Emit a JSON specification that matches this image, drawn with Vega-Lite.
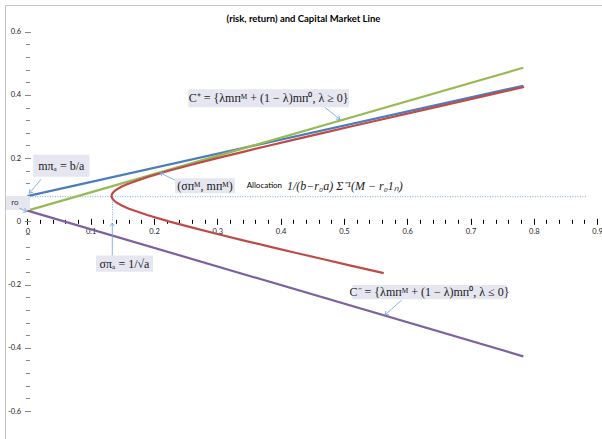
{
 "$schema": "https://vega.github.io/schema/vega-lite/v6.json",
 "autosize": {"type": "none"},
 "padding": {"left": 5, "top": 5, "right": 0, "bottom": 0},
 "width": 597,
 "height": 434,
 "background": "white",
 "config": {"view": {"stroke": "#c4c4c4", "strokeWidth": 1}, "font": "Lato"},
 "title": {"text": "(risk, return) and Capital Market Line", "font": "Lato", "fontSize": 9.5, "fontWeight": "bold", "color": "#000000", "anchor": "middle", "offset": -18},
 "datasets": {
  "curves": [
   {"series": "C+", "sigma": 0, "ret": 0.08},
   {"series": "C+", "sigma": 0.7834, "ret": 0.429},
   {"series": "CML", "sigma": 0, "ret": 0.034},
   {"series": "CML", "sigma": 0.7834, "ret": 0.486},
   {"series": "C-", "sigma": 0, "ret": 0.034},
   {"series": "C-", "sigma": 0.7834, "ret": -0.427},
   {"series": "frontier", "sigma": 0.5629, "ret": -0.164},
   {"series": "frontier", "sigma": 0.5108, "ret": -0.14},
   {"series": "frontier", "sigma": 0.4677, "ret": -0.12},
   {"series": "frontier", "sigma": 0.4249, "ret": -0.10},
   {"series": "frontier", "sigma": 0.3825, "ret": -0.08},
   {"series": "frontier", "sigma": 0.3409, "ret": -0.06},
   {"series": "frontier", "sigma": 0.3001, "ret": -0.04},
   {"series": "frontier", "sigma": 0.2607, "ret": -0.02},
   {"series": "frontier", "sigma": 0.2233, "ret": 0.0},
   {"series": "frontier", "sigma": 0.1892, "ret": 0.02},
   {"series": "frontier", "sigma": 0.1604, "ret": 0.04},
   {"series": "frontier", "sigma": 0.149, "ret": 0.05},
   {"series": "frontier", "sigma": 0.1404, "ret": 0.06},
   {"series": "frontier", "sigma": 0.1372, "ret": 0.065},
   {"series": "frontier", "sigma": 0.1349, "ret": 0.07},
   {"series": "frontier", "sigma": 0.1335, "ret": 0.075},
   {"series": "frontier", "sigma": 0.133, "ret": 0.08},
   {"series": "frontier", "sigma": 0.1335, "ret": 0.085},
   {"series": "frontier", "sigma": 0.1349, "ret": 0.09},
   {"series": "frontier", "sigma": 0.1372, "ret": 0.095},
   {"series": "frontier", "sigma": 0.1404, "ret": 0.10},
   {"series": "frontier", "sigma": 0.149, "ret": 0.11},
   {"series": "frontier", "sigma": 0.1604, "ret": 0.12},
   {"series": "frontier", "sigma": 0.1892, "ret": 0.14},
   {"series": "frontier", "sigma": 0.2233, "ret": 0.16},
   {"series": "frontier", "sigma": 0.2607, "ret": 0.18},
   {"series": "frontier", "sigma": 0.3001, "ret": 0.20},
   {"series": "frontier", "sigma": 0.3409, "ret": 0.22},
   {"series": "frontier", "sigma": 0.3825, "ret": 0.24},
   {"series": "frontier", "sigma": 0.4249, "ret": 0.26},
   {"series": "frontier", "sigma": 0.4677, "ret": 0.28},
   {"series": "frontier", "sigma": 0.5108, "ret": 0.30},
   {"series": "frontier", "sigma": 0.5542, "ret": 0.32},
   {"series": "frontier", "sigma": 0.6416, "ret": 0.36},
   {"series": "frontier", "sigma": 0.7296, "ret": 0.40},
   {"series": "frontier", "sigma": 0.7847, "ret": 0.425}
  ],
  "guides": [
   {"x": 0, "x2": 0.883, "y": 0.078, "y2": 0.078},
   {"x": 0.1345, "x2": 0.1345, "y": 0.078, "y2": 0}
  ],
  "boxes": [
   {"label": "mπₐ = b/a", "kind": "math", "x": 0.0535, "y": 0.176, "x1": 0.0093, "x2": 0.0978, "y1": 0.1413, "y2": 0.2106},
   {"label": "ro", "kind": "plain", "x": -0.0196, "y": 0.058, "x1": -0.0338, "x2": 0.0041, "y1": 0.0359, "y2": 0.0802},
   {"label": "(σᴨᴹ, mᴨᴹ)", "kind": "math", "x": 0.2806, "y": 0.1118, "x1": 0.2332, "x2": 0.328, "y1": 0.0887, "y2": 0.1361},
   {"label": "C⁺ = {λmᴨᴹ + (1 − λ)mᴨ⁰, λ ≥ 0}", "kind": "math", "x": 0.3811, "y": 0.3893, "x1": 0.2542, "x2": 0.508, "y1": 0.3608, "y2": 0.4178},
   {"label": "σπₐ = 1/√a", "kind": "math", "x": 0.1534, "y": -0.1337, "x1": 0.1084, "x2": 0.1984, "y1": -0.1595, "y2": -0.108},
   {"label": "C⁻ = {λmᴨᴹ + (1 − λ)mᴨ⁰, λ ≤ 0}", "kind": "math", "x": 0.6352, "y": -0.224, "x1": 0.5133, "x2": 0.7572, "y1": -0.2466, "y2": -0.2014}
  ],
  "freetext": [
   {"label": "Allocation", "kind": "plain", "x": 0.3464, "y": 0.1118},
   {"label": "1/(b−r₀a) Σ⁻¹(M − r₀1ₙ)", "kind": "math", "x": 0.41, "y": 0.1118}
  ],
  "arrows": [
   {"tx": 0.0215, "ty": 0.133, "hx": 0.003, "hy": 0.0888},
   {"tx": -0.0128, "ty": 0.0413, "hx": -0.001, "hy": 0.0305},
   {"tx": 0.2332, "ty": 0.1303, "hx": 0.2093, "hy": 0.1539},
   {"tx": 0.4698, "ty": 0.3608, "hx": 0.4937, "hy": 0.3228},
   {"tx": 0.1341, "ty": -0.108, "hx": 0.1341, "hy": -0.0052},
   {"tx": 0.5913, "ty": -0.2488, "hx": 0.5649, "hy": -0.2963}
  ]
 },
 "layer": [
  {
   "data": {"name": "guides"},
   "mark": {"type": "rule", "color": "#7da7d9", "strokeWidth": 1, "strokeDash": [1, 1.5]},
   "encoding": {
    "x": {"field": "x", "type": "quantitative", "scale": {"domain": [-0.03539, 0.90774], "nice": false, "zero": false},
      "axis": {"orient": "bottom", "offset": -219.65, "values": [0,0.02,0.04,0.06,0.08,0.1,0.12,0.14,0.16,0.18,0.2,0.22,0.24,0.26,0.28,0.3,0.32,0.34,0.36,0.38,0.4,0.42,0.44,0.46,0.48,0.5,0.52,0.54,0.56,0.58,0.6,0.62,0.64,0.66,0.68,0.7,0.72,0.74,0.76,0.78,0.8,0.82,0.84,0.86,0.88,0.9], "domain": false, "grid": false, "labels": false, "tickSize": 4, "tickColor": "#000000", "tickWidth": 1, "title": null}},
    "x2": {"field": "x2"},
    "y": {"field": "y", "type": "quantitative", "scale": {"domain": [-0.68855, 0.68444], "nice": false, "zero": false},
      "axis": {"orient": "left", "offset": -24.4, "values": [-0.6,-0.56,-0.52,-0.48,-0.44,-0.4,-0.36,-0.32,-0.28,-0.24,-0.2,-0.16,-0.12,-0.08,-0.04,0,0.04,0.08,0.12,0.16,0.2,0.24,0.28,0.32,0.36,0.4,0.44,0.48,0.52,0.56,0.6], "domain": false, "grid": false, "labels": false, "tickSize": 4, "tickColor": "#868686", "tickWidth": 1, "title": null}},
    "y2": {"field": "y2"}
   }
  },
  {
   "mark": {"type": "rule", "color": "#868686", "strokeWidth": 1},
   "encoding": {
    "x": {"datum": 0, "type": "quantitative", "scale": {"domain": [-0.03539, 0.90774], "nice": false, "zero": false}, "axis": null},
    "y": {"datum": -0.6, "type": "quantitative", "scale": {"domain": [-0.68855, 0.68444], "nice": false, "zero": false}, "axis": null},
    "y2": {"datum": 0.6}
   }
  },
  {
   "mark": {"type": "rule", "color": "#000000", "strokeWidth": 1.3},
   "encoding": {
    "x": {"datum": 0, "type": "quantitative", "scale": {"domain": [-0.03539, 0.90774], "nice": false, "zero": false}, "axis": null},
    "x2": {"datum": 0.9},
    "y": {"datum": 0, "type": "quantitative", "scale": {"domain": [-0.68855, 0.68444], "nice": false, "zero": false}, "axis": null}
   }
  },
  {
   "data": {"name": "curves"},
   "mark": {"type": "line", "strokeWidth": 2.2},
   "encoding": {
    "x": {"field": "sigma", "type": "quantitative", "scale": {"domain": [-0.03539, 0.90774], "nice": false, "zero": false},
      "axis": {"orient": "bottom", "offset": -220.65, "values": [0,0.1,0.2,0.3,0.4,0.5,0.6,0.7,0.8,0.9], "domain": false, "grid": false, "tickSize": 6, "tickColor": "#000000", "tickWidth": 1, "labelFont": "Lato", "labelFontSize": 7.5, "labelColor": "#222222", "labelPadding": 3, "labelFlush": false, "labelOverlap": false, "labelExpr": "replace(format(datum.value, '.1~f'), '−', '-')", "title": null}},
    "y": {"field": "ret", "type": "quantitative", "scale": {"domain": [-0.68855, 0.68444], "nice": false, "zero": false},
      "axis": {"orient": "left", "offset": -25.4, "values": [-0.6,-0.4,-0.2,0,0.2,0.4,0.6], "domain": false, "grid": false, "tickSize": 6, "tickColor": "#868686", "tickWidth": 1, "labelFont": "Lato", "labelFontSize": 7.5, "labelColor": "#222222", "labelPadding": 3.7, "labelOverlap": false, "labelExpr": "replace(format(datum.value, '.1~f'), '−', '-')", "title": null}},
    "color": {"field": "series", "type": "nominal", "scale": {"domain": ["C+", "CML", "C-", "frontier"], "range": ["#4a7ebb", "#98b954", "#7d60a0", "#be4b48"]}, "legend": null},
    "order": {"field": "ret", "type": "quantitative"}
   }
  },
  {
   "data": {"name": "boxes"},
   "mark": {"type": "rect", "color": "#e6e6f0"},
   "encoding": {
    "x": {"field": "x1", "type": "quantitative", "scale": {"domain": [-0.03539, 0.90774], "nice": false, "zero": false}, "axis": null},
    "x2": {"field": "x2"},
    "y": {"field": "y1", "type": "quantitative", "scale": {"domain": [-0.68855, 0.68444], "nice": false, "zero": false}, "axis": null},
    "y2": {"field": "y2"}
   }
  },
  {
   "data": {"name": "arrows"},
   "mark": {"type": "rule", "color": "#6f9fd8", "strokeWidth": 0.8},
   "encoding": {
    "x": {"field": "tx", "type": "quantitative", "scale": {"domain": [-0.03539, 0.90774], "nice": false, "zero": false}, "axis": null},
    "x2": {"field": "hx"},
    "y": {"field": "ty", "type": "quantitative", "scale": {"domain": [-0.68855, 0.68444], "nice": false, "zero": false}, "axis": null},
    "y2": {"field": "hy"}
   }
  },
  {
   "data": {"name": "arrows"},
   "mark": {"type": "point", "shape": "M -0.8 1.2 L 0 0 L 0.8 1.2", "filled": false, "stroke": "#6f9fd8", "strokeWidth": 0.8, "size": 30, "opacity": 1,
     "angle": {"expr": "atan2(scale('x', datum.hx) - scale('x', datum.tx), scale('y', datum.ty) - scale('y', datum.hy)) * 180 / PI"}},
   "encoding": {
    "x": {"field": "hx", "type": "quantitative", "scale": {"domain": [-0.03539, 0.90774], "nice": false, "zero": false}, "axis": null},
    "y": {"field": "hy", "type": "quantitative", "scale": {"domain": [-0.68855, 0.68444], "nice": false, "zero": false}, "axis": null}
   }
  },
  {
   "data": {"name": "boxes"},
   "transform": [{"filter": "datum.kind == 'math'"}],
   "mark": {"type": "text", "font": "Liberation Serif", "fontSize": 12, "color": "#1a1a1a", "align": "center", "baseline": "middle"},
   "encoding": {
    "x": {"field": "x", "type": "quantitative", "scale": {"domain": [-0.03539, 0.90774], "nice": false, "zero": false}, "axis": null},
    "y": {"field": "y", "type": "quantitative", "scale": {"domain": [-0.68855, 0.68444], "nice": false, "zero": false}, "axis": null},
    "text": {"field": "label"}
   }
  },
  {
   "data": {"name": "boxes"},
   "transform": [{"filter": "datum.kind == 'plain'"}],
   "mark": {"type": "text", "font": "Lato", "fontSize": 8, "color": "#333333", "align": "center", "baseline": "middle"},
   "encoding": {
    "x": {"field": "x", "type": "quantitative", "scale": {"domain": [-0.03539, 0.90774], "nice": false, "zero": false}, "axis": null},
    "y": {"field": "y", "type": "quantitative", "scale": {"domain": [-0.68855, 0.68444], "nice": false, "zero": false}, "axis": null},
    "text": {"field": "label"}
   }
  },
  {
   "data": {"name": "freetext"},
   "transform": [{"filter": "datum.kind == 'plain'"}],
   "mark": {"type": "text", "font": "Lato", "fontSize": 8, "color": "#000000", "align": "left", "baseline": "middle"},
   "encoding": {
    "x": {"field": "x", "type": "quantitative", "scale": {"domain": [-0.03539, 0.90774], "nice": false, "zero": false}, "axis": null},
    "y": {"field": "y", "type": "quantitative", "scale": {"domain": [-0.68855, 0.68444], "nice": false, "zero": false}, "axis": null},
    "text": {"field": "label"}
   }
  },
  {
   "data": {"name": "freetext"},
   "transform": [{"filter": "datum.kind == 'math'"}],
   "mark": {"type": "text", "font": "Liberation Serif", "fontSize": 12, "fontStyle": "italic", "color": "#1a1a1a", "align": "left", "baseline": "middle"},
   "encoding": {
    "x": {"field": "x", "type": "quantitative", "scale": {"domain": [-0.03539, 0.90774], "nice": false, "zero": false}, "axis": null},
    "y": {"field": "y", "type": "quantitative", "scale": {"domain": [-0.68855, 0.68444], "nice": false, "zero": false}, "axis": null},
    "text": {"field": "label"}
   }
  }
 ],
 "resolve": {"axis": {"x": "independent", "y": "independent"}}
}
